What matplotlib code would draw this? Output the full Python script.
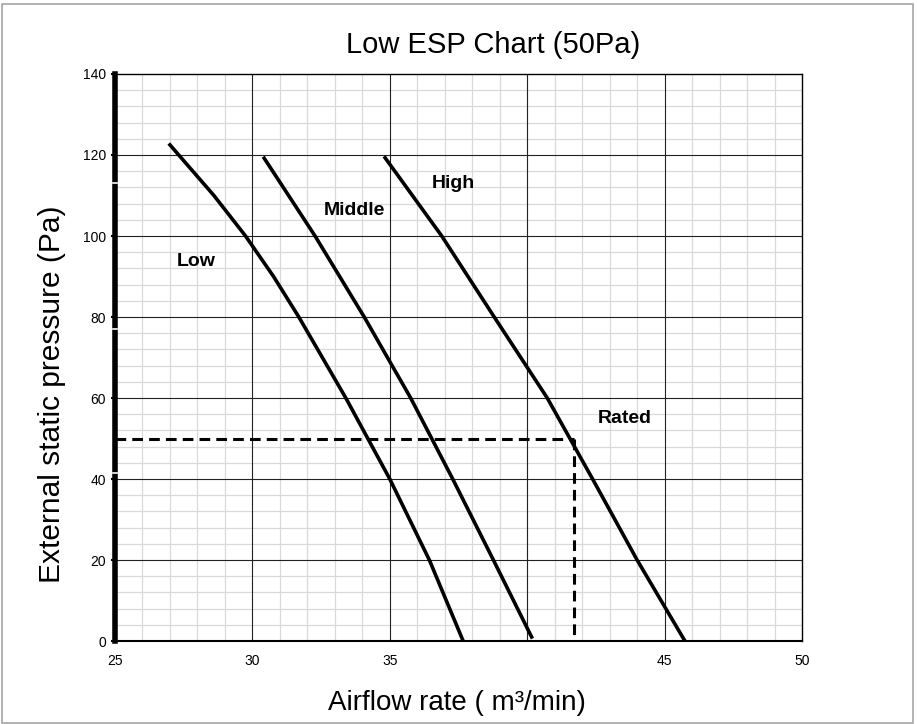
import matplotlib
matplotlib.use("Agg")
import matplotlib.pyplot as plt
from matplotlib.patches import Rectangle
from matplotlib.ticker import MultipleLocator

plt.rcParams['font.family'] = ['Liberation Sans', 'DejaVu Sans']

# fan curves (airflow m3/min, pressure Pa)
low_x = [27.0, 28.6, 29.75, 30.77, 31.69, 33.4, 35.0, 36.44, 37.67]
low_y = [122.5, 110, 100, 90, 80, 60, 40, 20, 0]
mid_x = [30.43, 32.28, 34.07, 35.76, 37.29, 38.77, 40.16]
mid_y = [119.2, 100, 80, 60, 40, 20, 1.0]
high_x = [34.83, 36.89, 38.8, 40.73, 42.38, 44.0, 45.74]
high_y = [119.3, 100, 80, 60, 40, 20, 0]

rated_x = 41.7
rated_y = 50

x_ticks = [25, 30, 35, 45, 50]
y_ticks = [0, 20, 40, 60, 80, 100, 120, 140]

fig = plt.figure(figsize=(9.17, 7.24), dpi=100)
ax = fig.add_axes([0.1254, 0.1146, 0.7492, 0.7832])

ax.set_xlim(25, 50)
ax.set_ylim(0, 140)

# grid: black major lines every 5 / 20, light minor lines
ax.xaxis.set_minor_locator(MultipleLocator(1))
ax.yaxis.set_minor_locator(MultipleLocator(4))
for v in range(30, 50, 5):
    ax.axvline(v, color='#222222', lw=0.8, zorder=1)
for v in range(20, 140, 20):
    ax.axhline(v, color='#222222', lw=0.8, zorder=1)
ax.grid(which='minor', color='#d9d9d9', lw=0.9, zorder=0)
ax.set_axisbelow(True)

ax.plot(low_x, low_y, color='black', lw=2.6, zorder=3, solid_joinstyle='round')
ax.plot(mid_x, mid_y, color='black', lw=2.6, zorder=3, solid_joinstyle='round')
ax.plot(high_x, high_y, color='black', lw=2.6, zorder=3, solid_joinstyle='round')

ax.plot([25, rated_x], [rated_y, rated_y], color='black', lw=2.2,
        dashes=(3.5, 2), zorder=4)
ax.plot([rated_x, rated_x], [rated_y, 0], color='black', lw=2.2,
        dashes=(3.5, 2), zorder=4)

ax.text(27.97, 93.7, 'Low', fontsize=14, fontweight='bold', ha='center', va='center')
ax.text(33.73, 106.2, 'Middle', fontsize=14, fontweight='bold', ha='center', va='center')
ax.text(37.31, 113.0, 'High', fontsize=14, fontweight='bold', ha='center', va='center')
ax.text(43.56, 55.0, 'Rated', fontsize=14, fontweight='bold', ha='center', va='center')

ax.set_xticks(x_ticks)
ax.set_yticks(y_ticks)
ax.tick_params(which='major', length=3, width=1.5, labelsize=10, color='black')
ax.tick_params(axis='x', which='major', length=0, pad=9)
ax.tick_params(which='minor', length=0)

ax.spines['left'].set_linewidth(4)
ax.spines['bottom'].set_linewidth(1.5)
ax.spines['top'].set_linewidth(1.0)
ax.spines['right'].set_linewidth(1.0)
for s in ax.spines.values():
    s.set_color('black')
    s.set_zorder(5)

# small white breaks in the thick left axis line
for yb in [113, 77, 41.5]:
    ax.plot([24.92, 25.08], [yb, yb], color='white', lw=1.2, zorder=6, clip_on=False)

fig.text(0.538, 0.938, 'Low ESP Chart (50Pa)', fontsize=21, ha='center', va='center')
fig.text(0.057, 0.456, 'External static pressure (Pa)', fontsize=21.5,
         rotation=90, ha='center', va='center')
fig.text(0.498, 0.029, 'Airflow rate ( m³/min)', fontsize=20, ha='center', va='center')

fig.patches.append(Rectangle((0.002, 0.002), 0.994, 0.993, transform=fig.transFigure,
                             fill=False, edgecolor='#a6a6a6', lw=1.2))

fig.savefig('out.png', dpi=100)
